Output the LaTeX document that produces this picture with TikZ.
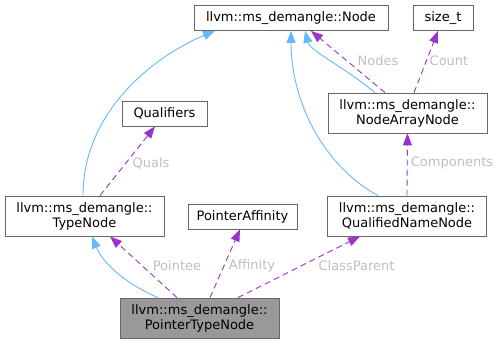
\documentclass[tikz,border=0pt]{standalone}
\usepackage{fontspec}
\setmainfont{DejaVu Sans}
\usetikzlibrary{arrows.meta}

\definecolor{edgegray}{HTML}{666666}
\definecolor{curfill}{HTML}{999999}
\definecolor{inhblue}{HTML}{63B8FF}
\definecolor{usepurple}{HTML}{9A32CD}
\definecolor{lblgray}{HTML}{BFBFBF}

\begin{document}
\begin{tikzpicture}[
  x=1pt, y=-1pt,
  every node/.style = {font=\fontsize{13}{15}\selectfont},
  cls/.style       = {draw=edgegray, thick, fill=white, inner sep=0pt,
                      align=center, minimum height=25pt},
  twoline/.style   = {minimum height=40pt},
  current/.style   = {fill=curfill},
  inherit/.style   = {inhblue, line width=0.9pt,
                      -{Triangle[length=12pt,width=9pt]}},
  uses/.style      = {usepurple, line width=0.9pt, dash pattern=on 6pt off 4pt,
                      -{Triangle[length=12pt,width=9pt]}},
  lbl/.style       = {text=lblgray, inner sep=1pt},
]
  \useasboundingbox (0,0) rectangle (499,344);

  % classes
  \node[cls, minimum width=194pt] (node) at (291,18) {llvm::ms\_demangle::Node};
  \node[cls, minimum width=60pt] (sizet) at (443,18) {size\_t};
  \node[cls, twoline, minimum width=159pt] (narray) at (407.5,113)
    {llvm::ms\_demangle::\\NodeArrayNode};
  \node[cls, minimum width=85pt] (quals) at (164.5,113.5) {Qualifiers};
  \node[cls, twoline, minimum width=159pt] (typenode) at (84.5,216)
    {llvm::ms\_demangle::\\TypeNode};
  \node[cls, minimum width=109pt] (affinity) at (242.5,216.5) {PointerAffinity};
  \node[cls, twoline, minimum width=159pt] (qname) at (407,216)
    {llvm::ms\_demangle::\\QualifiedNameNode};
  \node[cls, twoline, current, minimum width=159pt] (ptrtype) at (199.5,318)
    {llvm::ms\_demangle::\\PointerTypeNode};

  % base classes
  \draw[inherit] ([xshift=-1.5pt]typenode.north)
    .. controls +(0,-85) and +(-60,25) .. ([xshift=-76pt]node.south);
  \draw[inherit] ([xshift=-29pt]qname.north)
    .. controls +(-55,-30) and +(0,70) .. (node.south);
  \draw[inherit] ([xshift=-32.5pt]narray.north)
    .. controls +(-30,-25) and +(5,20) .. ([xshift=14pt]node.south);
  \draw[inherit] ([xshift=-41.5pt]ptrtype.north)
    .. controls +(-35,-15) and +(10,25) .. ([xshift=7.5pt]typenode.south);

  % members
  \draw[uses] ([xshift=-22.5pt]narray.north) -- ([xshift=20pt]node.south);
  \draw[uses] ([xshift=6.5pt]narray.north) -- ([xshift=-5pt]sizet.south);
  \draw[uses] ([xshift=15.5pt]typenode.north) -- ([xshift=-9.5pt]quals.south);
  \draw[uses] (qname.north) -- (narray.south);
  \draw[uses] ([xshift=-22.5pt]ptrtype.north) -- ([xshift=25.5pt]typenode.south);
  \draw[uses] ([xshift=10.5pt]ptrtype.north) -- ([xshift=-2.5pt]affinity.south);
  \draw[uses] ([xshift=38.5pt]ptrtype.north) -- ([xshift=-47pt]qname.south);

  % member names
  \node[lbl] (lnodes) at (378,61) {Nodes};
  \node[lbl] (lcount) at (449,61) {Count};
  \node[lbl] (lquals) at (151,163) {Quals};
  \node[lbl] (lcomp) at (452,163) {Components};
  \node[lbl] (lpointee) at (177,266) {Pointee};
  \node[lbl] (laff) at (252,266) {Affinity};
  \node[lbl] (lparent) at (356.5,266) {ClassParent};
\end{tikzpicture}
\end{document}
